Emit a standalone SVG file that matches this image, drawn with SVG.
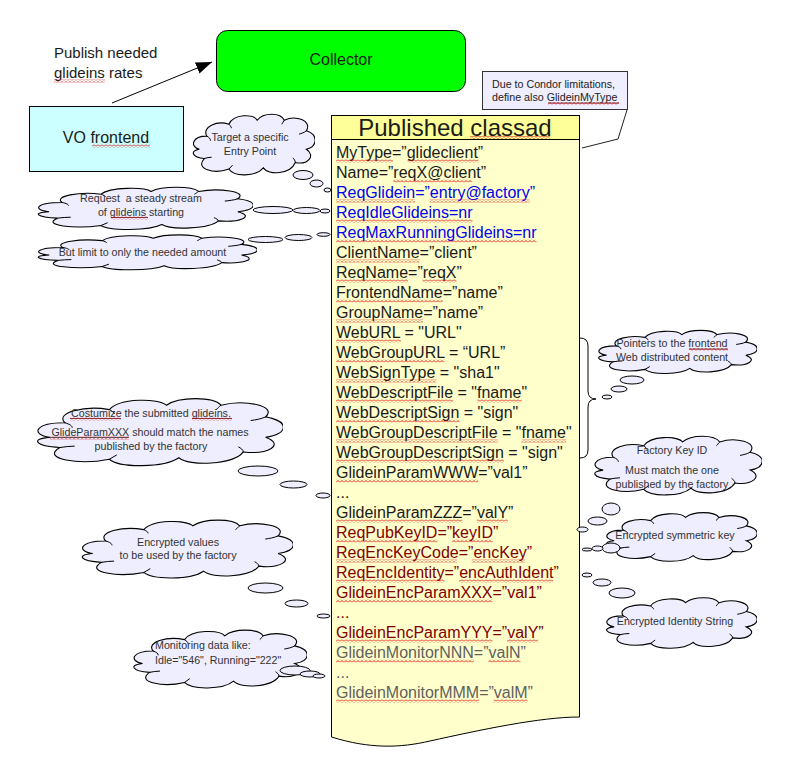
<svg xmlns="http://www.w3.org/2000/svg" xmlns:xlink="http://www.w3.org/1999/xlink" width="792" height="778" viewBox="0 0 792 778">
<style>
  text { font-family: "Liberation Sans", Arial, sans-serif; }
  .big { font-size: 16px; fill: #1a1a1a; }
  .lbl15 { font-size: 15px; fill: #1a1a1a; }
  .title { font-size: 24px; fill: #1a1a1a; text-anchor: middle; }
  .ad { font-size: 16px; fill: #1a1a1a; }
  .blue { fill: #0000ee; }
  .red { fill: #800000; }
  .grey { fill: #5f5f5f; }
  .small { font-size: 10.7px; fill: #333333; }
  .mid { text-anchor: middle; }
  .bub { fill: #eeeeff; stroke: #000; stroke-width: 1; }
  .sq { fill: url(#squig); }
  .ul { stroke: #333; stroke-width: 0.8; }
</style>
<defs>
  <symbol id="cloud" viewBox="0 0 100 100" preserveAspectRatio="none">
    <path d="M6,58 C-2,54 0,38 12,38 C8,24 20,14 30,20 C34,4 50,4 53,14 C58,2 72,2 75,14 C84,6 98,14 93,30 C103,36 102,54 93,58 C101,68 94,82 84,78 C80,96 62,98 58,86 C52,100 34,100 30,88 C18,96 2,88 10,72 C0,70 -2,60 6,58 Z" fill="#eeeeff" stroke="#000" stroke-width="1.1" vector-effect="non-scaling-stroke"/>
    <path d="M12,38 C14,40 15,42 15,45 M30,20 C31,22 32,24 32,26 M75,14 C74,16 74,18 73,20 M93,30 C91,33 89,34 87,35 M84,78 C84,75 83,73 82,71 M30,88 C31,86 32,84 33,82 M10,72 C12,71 14,70 16,70" fill="none" stroke="#000" stroke-width="1" vector-effect="non-scaling-stroke"/>
  </symbol>
  <pattern id="squig" patternUnits="userSpaceOnUse" width="4" height="3">
    <path d="M0,2.5 L2,0.5 L4,2.5" fill="none" stroke="#e00000" stroke-width="0.9"/>
  </pattern>
  <marker id="arrow" viewBox="0 0 16 12" refX="16" refY="6" markerWidth="16" markerHeight="12" markerUnits="userSpaceOnUse" orient="auto">
    <path d="M0,0 L16,6 L0,12 Z" fill="#000"/>
  </marker>
</defs>

<rect x="0" y="0" width="792" height="778" fill="#ffffff"/>

<g id="connectors" fill="none" stroke="#000" stroke-width="1">
  <line x1="112" y1="103" x2="212" y2="62" marker-end="url(#arrow)"/>
  <polyline points="627,110 618,139 582,148" stroke="#222"/>
  <path d="M580,338 Q588,338 588,346 L588,391 Q588,399 596,399 Q588,399 588,407 L588,450 Q588,458 580,458"/>
</g>

<g id="publish-label">
  <text class="lbl15" x="54" y="58">Publish needed</text>
  <text class="lbl15" x="54" y="78">glideins rates</text>
  <rect class="sq" x="54" y="79.5" width="51" height="3"/>
</g>

<g id="collector">
  <rect x="216.5" y="30.5" width="249" height="61" rx="11" fill="#00ff00" stroke="#000"/>
  <text class="big mid" x="341" y="65">Collector</text>
</g>

<g id="vo-frontend">
  <rect x="29.5" y="106.5" width="154" height="65" fill="#ccffff" stroke="#000"/>
  <text class="big mid" x="106" y="143">VO frontend</text>
  <rect class="sq" x="92" y="144.5" width="58" height="3"/>
</g>

<g id="callout-mytype">
  <rect x="482.5" y="71.5" width="145" height="38" fill="#eeeeff" stroke="#333"/>
  <text class="small" x="492" y="87.5" style="fill:#222">Due to Condor limitations,</text>
  <text class="small" x="492" y="101" style="fill:#222">define also GlideinMyType</text>
  <line class="ul" x1="548" y1="103" x2="619" y2="103"/>
  <rect class="sq" x="548" y="102" width="71" height="3"/>
</g>

<g id="classad">
  <path d="M331.5,139 L579.5,139 L579.5,717 C540,717 480,730 430,741 C400,748 370,749 331.5,737 Z" fill="#ffffcc" stroke="#000"/>
  <rect x="331.5" y="115.5" width="248" height="24" fill="#ffff99" stroke="#000"/>
  <text class="title" x="455" y="136">Published classad</text>
  <rect class="sq" x="470" y="136" width="80" height="3"/>
  <text class="ad" x="336" y="158">MyType=”glideclient”</text>
  <text class="ad" x="336" y="178">Name=”reqX@client”</text>
  <text class="ad blue" x="336" y="198">ReqGlidein=”entry@factory”</text>
  <text class="ad blue" x="336" y="218">ReqIdleGlideins=nr</text>
  <text class="ad blue" x="336" y="238">ReqMaxRunningGlideins=nr</text>
  <text class="ad" x="336" y="258">ClientName=”client”</text>
  <text class="ad" x="336" y="278">ReqName=”reqX”</text>
  <text class="ad" x="336" y="298">FrontendName=”name”</text>
  <text class="ad" x="336" y="318">GroupName=”name”</text>
  <text class="ad" x="336" y="338">WebURL = "URL"</text>
  <text class="ad" x="336" y="358">WebGroupURL = “URL”</text>
  <text class="ad" x="336" y="378">WebSignType = "sha1"</text>
  <text class="ad" x="336" y="398">WebDescriptFile = "fname"</text>
  <text class="ad" x="336" y="418">WebDescriptSign = "sign"</text>
  <text class="ad" x="336" y="438">WebGroupDescriptFile = "fname"</text>
  <text class="ad" x="336" y="458">WebGroupDescriptSign = "sign"</text>
  <text class="ad" x="336" y="478">GlideinParamWWW=”val1”</text>
  <text class="ad" x="336" y="498">...</text>
  <text class="ad" x="336" y="518">GlideinParamZZZ=”valY”</text>
  <text class="ad red" x="336" y="538">ReqPubKeyID=”keyID”</text>
  <text class="ad red" x="336" y="558">ReqEncKeyCode=”encKey”</text>
  <text class="ad red" x="336" y="578">ReqEncIdentity=”encAuthIdent”</text>
  <text class="ad red" x="336" y="598">GlideinEncParamXXX=”val1”</text>
  <text class="ad red" x="336" y="618">...</text>
  <text class="ad red" x="336" y="638">GlideinEncParamYYY=”valY”</text>
  <text class="ad grey" x="336" y="658">GlideinMonitorNNN=”valN”</text>
  <text class="ad grey" x="336" y="678">...</text>
  <text class="ad grey" x="336" y="698">GlideinMonitorMMM=”valM”</text>
  <g id="spellcheck-classad">
    <rect class="sq" x="336" y="159.5" width="57" height="3"/>
    <rect class="sq" x="407.5" y="159.5" width="71" height="3"/>
    <rect class="sq" x="393.3" y="179.5" width="79" height="3"/>
    <rect class="sq" x="336" y="199.5" width="79" height="3"/>
    <rect class="sq" x="429.7" y="199.5" width="100" height="3"/>
    <rect class="sq" x="336" y="219.5" width="136.5" height="3"/>
    <rect class="sq" x="336" y="239.5" width="200.5" height="3"/>
    <rect class="sq" x="336" y="259.5" width="83.6" height="3"/>
    <rect class="sq" x="336" y="279.5" width="72" height="3"/>
    <rect class="sq" x="422.6" y="279.5" width="33.8" height="3"/>
    <rect class="sq" x="336" y="299.5" width="106.7" height="3"/>
    <rect class="sq" x="336" y="319.5" width="87.1" height="3"/>
    <rect class="sq" x="336" y="339.5" width="64.9" height="3"/>
    <rect class="sq" x="336" y="359.5" width="108.5" height="3"/>
    <rect class="sq" x="336" y="379.5" width="100.5" height="3"/>
    <rect class="sq" x="336" y="399.5" width="117.3" height="3"/>
    <rect class="sq" x="477.3" y="399.5" width="44.5" height="3"/>
    <rect class="sq" x="336" y="419.5" width="123.6" height="3"/>
    <rect class="sq" x="336" y="439.5" width="161.8" height="3"/>
    <rect class="sq" x="521.7" y="439.5" width="44.5" height="3"/>
    <rect class="sq" x="336" y="459.5" width="168" height="3"/>
    <rect class="sq" x="336" y="479.5" width="142.2" height="3"/>
    <rect class="sq" x="336" y="519.5" width="126.2" height="3"/>
    <rect class="sq" x="476.8" y="519.5" width="31.1" height="3"/>
    <rect class="sq" x="336" y="539.5" width="101.4" height="3"/>
    <rect class="sq" x="452" y="539.5" width="40.9" height="3"/>
    <rect class="sq" x="336" y="559.5" width="121.1" height="3"/>
    <rect class="sq" x="471.7" y="559.5" width="53.4" height="3"/>
    <rect class="sq" x="336" y="579.5" width="108.5" height="3"/>
    <rect class="sq" x="459.1" y="579.5" width="94.3" height="3"/>
    <rect class="sq" x="336" y="599.5" width="156.5" height="3"/>
    <rect class="sq" x="336" y="639.5" width="156.5" height="3"/>
    <rect class="sq" x="507.1" y="639.5" width="31.1" height="3"/>
    <rect class="sq" x="336" y="659.5" width="137.8" height="3"/>
    <rect class="sq" x="488.4" y="659.5" width="32" height="3"/>
    <rect class="sq" x="336" y="699.5" width="143.1" height="3"/>
    <rect class="sq" x="493.7" y="699.5" width="33.8" height="3"/>
  </g>
</g>

<g id="cloud-target">
  <use xlink:href="#cloud" href="#cloud" x="192" y="111" width="123" height="66"/>
  <ellipse class="bub" cx="303" cy="175" rx="10" ry="4.5"/>
  <ellipse class="bub" cx="316.5" cy="183.5" rx="6.5" ry="3.5"/>
  <ellipse class="bub" cx="327.5" cy="190" rx="3.5" ry="2"/>
  <text class="small mid" x="250" y="141">Target a specific</text>
  <text class="small mid" x="250" y="155">Entry Point</text>
</g>

<g id="cloud-request">
  <use xlink:href="#cloud" href="#cloud" x="36" y="185" width="217" height="46"/>
  <ellipse class="bub" cx="273" cy="210" rx="20" ry="3.5"/>
  <ellipse class="bub" cx="306.5" cy="210.5" rx="13.5" ry="3"/>
  <ellipse class="bub" cx="325" cy="211" rx="5" ry="2"/>
  <text class="small mid" x="141" y="202" xml:space="preserve">Request  a steady stream</text>
  <text class="small mid" x="141" y="216">of glideins starting</text>
  <line class="ul" x1="111" y1="217.5" x2="148" y2="217.5"/>
  <rect class="sq" x="111" y="216.5" width="37" height="3"/>
</g>

<g id="cloud-limit">
  <use xlink:href="#cloud" href="#cloud" x="36" y="233" width="221" height="38"/>
  <ellipse class="bub" cx="265.5" cy="239.5" rx="17.5" ry="3"/>
  <ellipse class="bub" cx="298.5" cy="237.5" rx="13.5" ry="3"/>
  <ellipse class="bub" cx="323.5" cy="234.5" rx="6.5" ry="1.8"/>
  <text class="small mid" x="142.5" y="256">But limit to only the needed amount</text>
</g>

<g id="cloud-pointers">
  <use xlink:href="#cloud" href="#cloud" x="597" y="328" width="160" height="47"/>
  <ellipse class="bub" cx="632" cy="380" rx="12" ry="4"/>
  <ellipse class="bub" cx="619" cy="389" rx="8" ry="3"/>
  <ellipse class="bub" cx="607" cy="397" rx="5" ry="2"/>
  <text class="small mid" x="672" y="347">Pointers to the frontend</text>
  <text class="small mid" x="672" y="361">Web distributed content</text>
  <line class="ul" x1="689" y1="349" x2="728" y2="349"/>
  <rect class="sq" x="689" y="348" width="39" height="3"/>
</g>

<g id="cloud-factory-key">
  <ellipse class="bub" cx="611" cy="509" rx="9" ry="6"/>
  <ellipse class="bub" cx="597.5" cy="521" rx="9.5" ry="4"/>
  <ellipse class="bub" cx="582.5" cy="529.5" rx="5.5" ry="2.5"/>
  <use xlink:href="#cloud" href="#cloud" x="593" y="433" width="169" height="64"/>
  <text class="small mid" x="672" y="454">Factory Key ID</text>
  <text class="small mid" x="672" y="474">Must match the one</text>
  <text class="small mid" x="672" y="488">published by the factory</text>
</g>

<g id="cloud-symkey">
  <use xlink:href="#cloud" href="#cloud" x="605" y="510" width="152" height="53"/>
  <ellipse class="bub" cx="611" cy="548" rx="9" ry="5"/>
  <ellipse class="bub" cx="597.5" cy="548.5" rx="5.5" ry="2.5"/>
  <ellipse class="bub" cx="587" cy="549.5" rx="5" ry="1.5"/>
  <text class="small mid" x="675" y="539">Encrypted symmetric key</text>
</g>

<g id="cloud-identity">
  <use xlink:href="#cloud" href="#cloud" x="605" y="595" width="152" height="55"/>
  <ellipse class="bub" cx="622" cy="593" rx="13" ry="5"/>
  <ellipse class="bub" cx="602" cy="582.5" rx="9" ry="3.5"/>
  <ellipse class="bub" cx="587" cy="575" rx="5" ry="2"/>
  <text class="small mid" x="675" y="625">Encrypted Identity String</text>
</g>

<g id="cloud-customize">
  <use xlink:href="#cloud" href="#cloud" x="35" y="395" width="248" height="73"/>
  <ellipse class="bub" cx="258" cy="471" rx="20" ry="5"/>
  <ellipse class="bub" cx="293.5" cy="484.5" rx="13.5" ry="3.5"/>
  <ellipse class="bub" cx="323" cy="495.5" rx="7" ry="2.5"/>
  <text class="small mid" x="151" y="417">Costumize the submitted glideins.</text>
  <text class="small mid" x="150" y="436">GlideParamXXX should match the names</text>
  <text class="small mid" x="151" y="450">published by the factory</text>
  <line class="ul" x1="70" y1="418.5" x2="121" y2="418.5"/>
  <rect class="sq" x="70" y="417.5" width="51" height="3"/>
  <line class="ul" x1="192" y1="418.5" x2="232" y2="418.5"/>
  <rect class="sq" x="192" y="417.5" width="40" height="3"/>
  <line class="ul" x1="50" y1="437.5" x2="129" y2="437.5"/>
  <rect class="sq" x="50" y="436.5" width="79" height="3"/>
</g>

<g id="cloud-encrypted-values">
  <use xlink:href="#cloud" href="#cloud" x="80" y="517" width="213" height="63"/>
  <ellipse class="bub" cx="265.5" cy="588" rx="17.5" ry="5"/>
  <ellipse class="bub" cx="296.5" cy="603.5" rx="11.5" ry="3.5"/>
  <ellipse class="bub" cx="323.5" cy="616" rx="6.5" ry="2"/>
  <text class="small mid" x="178" y="546">Encrypted values</text>
  <text class="small mid" x="178" y="559">to be used by the factory</text>
</g>

<g id="cloud-monitoring">
  <use xlink:href="#cloud" href="#cloud" x="132" y="627" width="175" height="63"/>
  <ellipse class="bub" cx="295" cy="670.5" rx="15" ry="4.5"/>
  <ellipse class="bub" cx="310" cy="674" rx="10" ry="3"/>
  <ellipse class="bub" cx="319" cy="676" rx="6" ry="2"/>
  <text class="small" x="155" y="649">Monitoring data like:</text>
  <text class="small" x="155" y="664">Idle="546", Running="222"</text>
</g>
</svg>
